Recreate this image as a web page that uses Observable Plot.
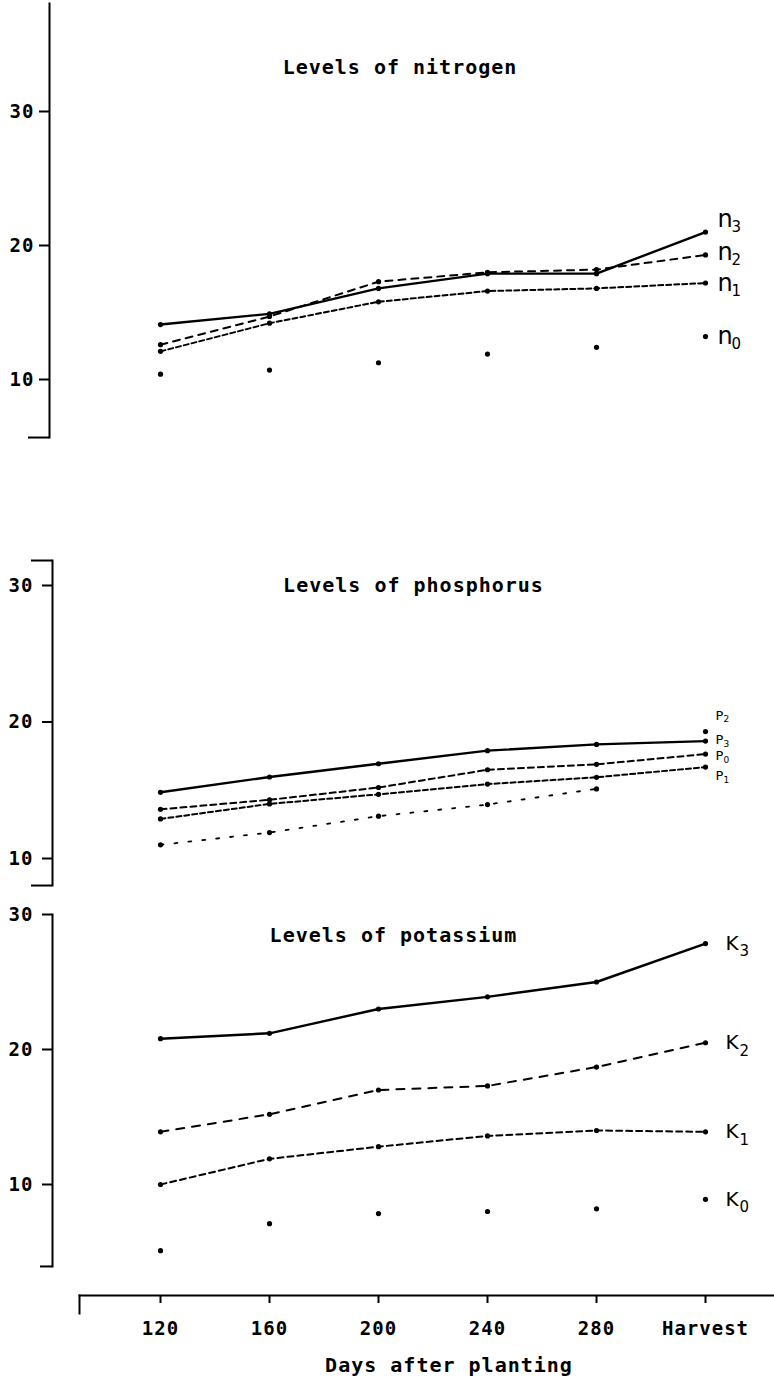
<!DOCTYPE html>
<html><head><meta charset="utf-8">
<script src="https://cdn.jsdelivr.net/npm/d3@7"></script>
<script src="https://cdn.jsdelivr.net/npm/@observablehq/plot@0.6"></script>
<style>
body{margin:0;background:#fff}
#chart{position:relative;width:774px;height:1380px;background:#fff}
#chart svg{position:absolute;left:0;background:transparent}
</style>
</head><body><div id="chart"></div>
<script>
// ---------- data ----------
const days = ["120", "160", "200", "240", "280", "Harvest"];
const xTitle = "Days after planting";
const yTicks = [10, 20, 30];

const nitrogenTitle = "Levels of nitrogen";
const n3 = [14.1, 14.9, 16.8, 17.9, 17.9, 21.0];
const n2 = [12.6, 14.7, 17.3, 18.0, 18.2, 19.3];
const n1 = [12.1, 14.2, 15.8, 16.6, 16.8, 17.2];
const n0 = [10.4, 10.7, 11.25, 11.9, 12.4, 13.2];

const phosphorusTitle = "Levels of phosphorus";
const p3 = [14.85, 15.97, 16.94, 17.9, 18.36, 18.6];
const p0 = [13.6, 14.3, 15.2, 16.5, 16.9, 17.65];
const p1 = [12.9, 14.0, 14.7, 15.45, 15.95, 16.7];
const p2 = [11.0, 11.9, 13.1, 13.95, 15.1, 19.3];

const potassiumTitle = "Levels of potassium";
const k3 = [20.8, 21.2, 23.0, 23.9, 25.0, 27.85];
const k2 = [13.9, 15.2, 17.0, 17.3, 18.7, 20.5];
const k1 = [10.0, 11.9, 12.8, 13.6, 14.0, 13.9];
const k0 = [5.1, 7.1, 7.85, 8.0, 8.2, 8.9];

// axis end values (where each vertical axis line stops)
const nitrogenAxisEnds = [5.67];
const phosphorusAxisEnds = [31.83, 8.02];
const potassiumAxisEnds = [3.93];

// ---------- helpers ----------
const monoFont = "DejaVu Sans Mono";
const handFont = "DejaVu Sans";
const table = (name, values) => days.map((day, i) => ({day, value: values[i], name}));
const xScale = {type: "point", domain: days, range: [159, 705], padding: 0, axis: null};

function panel(cfg) {
  const all = cfg.series.flatMap(s => table(s.name, s.values));
  const marks = [
    Plot.frame({anchor: "left", strokeWidth: 2}),
    Plot.axisY(yTicks, {tickSize: 10, tickPadding: cfg.tickPadding, strokeWidth: 2, label: null,
      fontSize: 19, fontWeight: "bold", fontFamily: monoFont}),
    Plot.axisY(cfg.ends, {tickSize: cfg.capLen, strokeWidth: 2, label: null, tickFormat: () => ""}),
    Plot.text([cfg.title], {frameAnchor: "top", dx: cfg.titleDx, dy: cfg.titleDy,
      lineAnchor: "middle", fontSize: 20, fontWeight: "bold", fontFamily: monoFont})
  ];
  for (const s of cfg.series) {
    const st = cfg.styles[s.name];
    const data = table(s.name, s.values);
    if (st.dash !== "none") {
      const lineData = st.upTo ? data.slice(0, st.upTo) : data;
      marks.push(Plot.line(lineData, {x: "day", y: "value", stroke: "black",
        strokeWidth: st.width, strokeDasharray: st.dash || null}));
    }
  }
  marks.push(Plot.dot(all, {x: "day", y: "value", r: 2.6, fill: "black"}));
  for (const s of cfg.series) {
    const st = cfg.styles[s.name];
    const last = table(s.name, s.values).slice(-1);
    marks.push(Plot.text(last, {x: "day", y: "value", text: () => cfg.letter,
      dx: cfg.labelDx, dy: st.labelDy, textAnchor: "start", fontSize: cfg.letterSize,
      fontFamily: handFont, fontWeight: "normal"}));
    marks.push(Plot.text(last, {x: "day", y: "value", text: () => s.sub,
      dx: cfg.subDx, dy: st.labelDy + cfg.subDy, textAnchor: "start", fontSize: cfg.subSize,
      fontFamily: handFont, fontWeight: "normal"}));
  }
  const svg = Plot.plot({
    width: 774, height: cfg.height,
    marginTop: cfg.marginTop, marginBottom: cfg.marginBottom,
    marginLeft: cfg.marginLeft, marginRight: 0,
    style: {fontFamily: monoFont, letterSpacing: "1px", background: "transparent", overflow: "visible"},
    x: xScale,
    y: {domain: [10, 30], range: cfg.yRange, axis: null},
    marks
  });
  svg.style.top = cfg.top + "px";
  return svg;
}

const chart = document.getElementById("chart");

chart.appendChild(panel({
  top: 0, height: 440, marginTop: 3, marginBottom: 3, marginLeft: 49,
  yRange: [379, 111], ends: nitrogenAxisEnds, capLen: 21, tickPadding: 5,
  title: nitrogenTitle, titleDx: -12, titleDy: 64,
  letter: "n", letterSize: 24, subSize: 15, labelDx: 12, subDx: 26, subDy: 8,
  series: [{name: "n3", sub: "3", values: n3}, {name: "n2", sub: "2", values: n2},
           {name: "n1", sub: "1", values: n1}, {name: "n0", sub: "0", values: n0}],
  styles: {
    n3: {width: 2.4, dash: null, labelDy: -13},
    n2: {width: 2, dash: "7,6", labelDy: -3},
    n1: {width: 2, dash: "5,3", labelDy: 0},
    n0: {dash: "none", labelDy: 0}
  }
}));

chart.appendChild(panel({
  top: 550, height: 345, marginTop: 10, marginBottom: 10, marginLeft: 52,
  yRange: [308, 35], ends: phosphorusAxisEnds, capLen: 21, tickPadding: 9,
  title: phosphorusTitle, titleDx: 0, titleDy: 25,
  letter: "P", letterSize: 13, subSize: 9, labelDx: 10, subDx: 18, subDy: 4,
  series: [{name: "p2", sub: "2", values: p2}, {name: "p3", sub: "3", values: p3},
           {name: "p0", sub: "0", values: p0}, {name: "p1", sub: "1", values: p1}],
  styles: {
    p3: {width: 2.4, dash: null, labelDy: -1},
    p0: {width: 2, dash: "6,4", labelDy: 2},
    p1: {width: 2, dash: "5,3", labelDy: 9},
    p2: {width: 1.8, dash: "3,11", upTo: 5, labelDy: -16}
  }
}));

chart.appendChild(panel({
  top: 900, height: 375, marginTop: 14, marginBottom: 9, marginLeft: 52,
  yRange: [284, 14], ends: potassiumAxisEnds, capLen: 12, tickPadding: 9,
  title: potassiumTitle, titleDx: -20, titleDy: 21,
  letter: "K", letterSize: 20, subSize: 15, labelDx: 20, subDx: 34, subDy: 8,
  series: [{name: "k3", sub: "3", values: k3}, {name: "k2", sub: "2", values: k2},
           {name: "k1", sub: "1", values: k1}, {name: "k0", sub: "0", values: k0}],
  styles: {
    k3: {width: 2.4, dash: null, labelDy: 0},
    k2: {width: 2, dash: "8,8", labelDy: 0},
    k1: {width: 2, dash: "6,4", labelDy: 0},
    k0: {dash: "none", labelDy: 0}
  }
}));

// x axis
const xAxis = Plot.plot({
  width: 774, height: 100, marginTop: 15, marginBottom: 67, marginLeft: 79, marginRight: 0,
  style: {fontFamily: monoFont, letterSpacing: "1px", background: "transparent", overflow: "visible"},
  x: xScale,
  marks: [
    Plot.frame({anchor: "top", strokeWidth: 2}),
    Plot.frame({anchor: "left", strokeWidth: 2}),
    Plot.tickX(days, {x: d => d, insetBottom: 10, strokeWidth: 2}),
    Plot.axisX({anchor: "bottom", tickSize: 0, tickPadding: 8, lineAnchor: "top", label: null,
      fontSize: 19, fontWeight: "bold", fontFamily: monoFont}),
    Plot.text([xTitle], {frameAnchor: "bottom", dx: 22, dy: 52, lineAnchor: "middle",
      fontSize: 20, fontWeight: "bold", fontFamily: monoFont})
  ]
});
xAxis.style.top = "1280px";
chart.appendChild(xAxis);
</script>
</body></html>
